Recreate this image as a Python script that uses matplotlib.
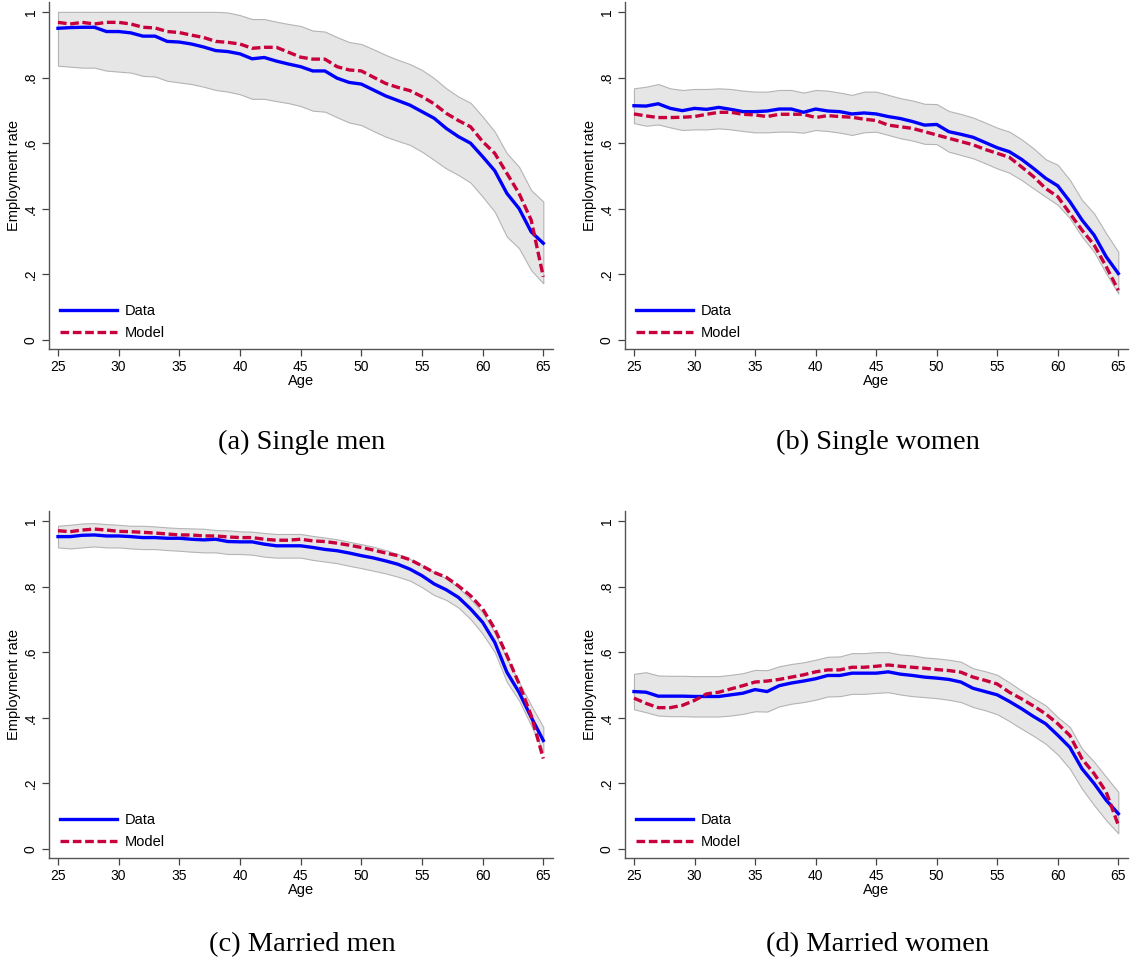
import matplotlib.pyplot as plt
import numpy as np

ages = np.arange(25, 66)

# (a) Single men
sm_data = [0.950, 0.952, 0.953, 0.953, 0.940, 0.940, 0.936, 0.926, 0.926, 0.910,
           0.908, 0.902, 0.893, 0.882, 0.879, 0.872, 0.857, 0.861, 0.850, 0.841,
           0.833, 0.820, 0.820, 0.798, 0.785, 0.780, 0.762, 0.744, 0.730, 0.716,
           0.696, 0.676, 0.645, 0.620, 0.600, 0.559, 0.516, 0.447, 0.401, 0.330, 0.295]
sm_model = [0.968, 0.963, 0.968, 0.963, 0.968, 0.968, 0.963, 0.953, 0.951, 0.940,
            0.937, 0.929, 0.922, 0.910, 0.907, 0.902, 0.889, 0.892, 0.892, 0.877,
            0.862, 0.856, 0.856, 0.833, 0.823, 0.820, 0.801, 0.782, 0.770, 0.760,
            0.742, 0.720, 0.691, 0.669, 0.650, 0.605, 0.569, 0.508, 0.447, 0.366, 0.193]
sm_hi = [1.0, 1.0, 1.0, 1.0, 1.0, 1.0, 1.0, 1.0, 1.0, 1.0,
         1.0, 1.0, 1.0, 1.0, 0.998, 0.990, 0.978, 0.978, 0.970, 0.963,
         0.957, 0.943, 0.940, 0.923, 0.908, 0.902, 0.886, 0.869, 0.854, 0.841,
         0.823, 0.798, 0.767, 0.742, 0.723, 0.681, 0.635, 0.569, 0.528, 0.457, 0.422]
sm_lo = [0.836, 0.833, 0.830, 0.830, 0.821, 0.818, 0.815, 0.805, 0.803, 0.790,
         0.785, 0.780, 0.772, 0.762, 0.757, 0.749, 0.735, 0.735, 0.728, 0.722,
         0.713, 0.699, 0.696, 0.679, 0.663, 0.655, 0.637, 0.620, 0.607, 0.595,
         0.574, 0.549, 0.523, 0.503, 0.480, 0.437, 0.391, 0.315, 0.280, 0.213, 0.173]

# (b) Single women
sw_data = [0.714, 0.713, 0.720, 0.706, 0.699, 0.706, 0.703, 0.709, 0.703, 0.696,
           0.696, 0.698, 0.704, 0.704, 0.694, 0.704, 0.698, 0.696, 0.689, 0.692,
           0.689, 0.681, 0.675, 0.666, 0.655, 0.657, 0.635, 0.627, 0.618, 0.602,
           0.586, 0.574, 0.551, 0.523, 0.493, 0.470, 0.422, 0.366, 0.320, 0.254, 0.203]
sw_model = [0.689, 0.683, 0.678, 0.678, 0.679, 0.681, 0.688, 0.694, 0.694, 0.688,
            0.686, 0.681, 0.688, 0.688, 0.688, 0.678, 0.684, 0.681, 0.679, 0.673,
            0.669, 0.655, 0.650, 0.645, 0.635, 0.625, 0.615, 0.605, 0.595, 0.581,
            0.569, 0.557, 0.528, 0.498, 0.462, 0.437, 0.386, 0.335, 0.290, 0.224, 0.152]
sw_hi = [0.767, 0.772, 0.780, 0.767, 0.762, 0.765, 0.765, 0.767, 0.765, 0.760,
         0.757, 0.757, 0.762, 0.762, 0.754, 0.762, 0.760, 0.754, 0.747, 0.757,
         0.757, 0.747, 0.737, 0.730, 0.720, 0.719, 0.698, 0.689, 0.678, 0.663,
         0.647, 0.635, 0.612, 0.584, 0.551, 0.534, 0.488, 0.427, 0.386, 0.325, 0.269]
sw_lo = [0.661, 0.653, 0.657, 0.648, 0.640, 0.642, 0.642, 0.645, 0.642, 0.637,
         0.633, 0.633, 0.635, 0.635, 0.632, 0.640, 0.637, 0.632, 0.625, 0.633,
         0.635, 0.625, 0.615, 0.608, 0.598, 0.597, 0.574, 0.564, 0.554, 0.539,
         0.523, 0.510, 0.488, 0.462, 0.437, 0.412, 0.371, 0.315, 0.269, 0.203, 0.142]

# (c) Married men
mm_data = [0.952, 0.952, 0.956, 0.957, 0.954, 0.954, 0.952, 0.949, 0.949, 0.947,
           0.947, 0.944, 0.942, 0.944, 0.937, 0.936, 0.936, 0.929, 0.924, 0.924,
           0.924, 0.919, 0.913, 0.909, 0.902, 0.894, 0.887, 0.878, 0.868, 0.853,
           0.833, 0.808, 0.790, 0.767, 0.732, 0.691, 0.630, 0.539, 0.478, 0.402, 0.331]
mm_model = [0.970, 0.967, 0.972, 0.975, 0.972, 0.968, 0.967, 0.965, 0.963, 0.960,
            0.957, 0.957, 0.954, 0.954, 0.951, 0.949, 0.949, 0.944, 0.941, 0.941,
            0.944, 0.939, 0.937, 0.932, 0.926, 0.919, 0.911, 0.902, 0.894, 0.882,
            0.863, 0.843, 0.828, 0.802, 0.772, 0.732, 0.671, 0.590, 0.504, 0.407, 0.276]
mm_hi = [0.985, 0.988, 0.992, 0.993, 0.990, 0.988, 0.985, 0.985, 0.983, 0.980,
         0.978, 0.977, 0.976, 0.972, 0.971, 0.968, 0.967, 0.963, 0.960, 0.960,
         0.960, 0.954, 0.949, 0.944, 0.936, 0.929, 0.921, 0.911, 0.899, 0.884,
         0.865, 0.843, 0.825, 0.797, 0.762, 0.721, 0.660, 0.580, 0.509, 0.438, 0.372]
mm_lo = [0.919, 0.916, 0.919, 0.922, 0.919, 0.919, 0.916, 0.914, 0.914, 0.911,
         0.909, 0.906, 0.904, 0.904, 0.899, 0.899, 0.897, 0.891, 0.888, 0.888,
         0.888, 0.881, 0.876, 0.871, 0.863, 0.856, 0.848, 0.840, 0.830, 0.818,
         0.798, 0.774, 0.759, 0.736, 0.701, 0.656, 0.600, 0.509, 0.453, 0.377, 0.296]

# (d) Married women
mw_data = [0.480, 0.478, 0.466, 0.466, 0.466, 0.465, 0.465, 0.465, 0.470, 0.475,
           0.486, 0.480, 0.498, 0.506, 0.512, 0.519, 0.529, 0.529, 0.536, 0.536,
           0.536, 0.540, 0.533, 0.529, 0.524, 0.521, 0.517, 0.509, 0.490, 0.480,
           0.470, 0.450, 0.428, 0.404, 0.382, 0.347, 0.310, 0.245, 0.200, 0.149, 0.108]
mw_model = [0.460, 0.444, 0.431, 0.431, 0.438, 0.453, 0.473, 0.478, 0.488, 0.498,
            0.509, 0.512, 0.517, 0.524, 0.531, 0.540, 0.546, 0.546, 0.554, 0.554,
            0.557, 0.561, 0.557, 0.554, 0.551, 0.547, 0.544, 0.539, 0.524, 0.514,
            0.503, 0.478, 0.458, 0.436, 0.412, 0.382, 0.346, 0.275, 0.230, 0.174, 0.073]
mw_hi = [0.534, 0.539, 0.529, 0.528, 0.528, 0.527, 0.527, 0.527, 0.531, 0.536,
         0.546, 0.545, 0.557, 0.564, 0.569, 0.577, 0.586, 0.587, 0.597, 0.597,
         0.600, 0.600, 0.593, 0.590, 0.584, 0.581, 0.577, 0.571, 0.551, 0.542,
         0.531, 0.508, 0.483, 0.460, 0.438, 0.402, 0.372, 0.306, 0.266, 0.220, 0.174]
mw_lo = [0.426, 0.417, 0.407, 0.405, 0.405, 0.404, 0.404, 0.404, 0.407, 0.412,
         0.420, 0.419, 0.435, 0.443, 0.448, 0.455, 0.465, 0.466, 0.473, 0.473,
         0.476, 0.478, 0.471, 0.466, 0.463, 0.460, 0.455, 0.448, 0.433, 0.423,
         0.411, 0.390, 0.367, 0.345, 0.321, 0.288, 0.245, 0.184, 0.134, 0.088, 0.048]

captions = ['(a) Single men', '(b) Single women', '(c) Married men', '(d) Married women']
panels = [(sm_data, sm_model, sm_lo, sm_hi),
          (sw_data, sw_model, sw_lo, sw_hi),
          (mm_data, mm_model, mm_lo, mm_hi),
          (mw_data, mw_model, mw_lo, mw_hi)]

W, H = 1133, 966
# axes boxes in pixels: left, top, right, bottom
boxes = [(49, 2, 553, 349), (625, 2, 1128, 349),
         (49, 511, 553, 858), (625, 511, 1128, 858)]
caption_y = [442, 945]

plt.rcParams['font.family'] = ['Liberation Sans', 'DejaVu Sans']
fig = plt.figure(figsize=(W / 100, H / 100), dpi=100)

for i, (data, model, lo, hi) in enumerate(panels):
    l, t, r, b = boxes[i]
    ax = fig.add_axes([l / W, 1 - b / H, (r - l) / W, (b - t) / H])
    ax.fill_between(ages, lo, hi, facecolor='#e6e6e6', edgecolor='#b4b4b4', linewidth=0.8)
    ax.plot(ages, data, color='#0000ff', lw=2.4, label='Data')
    ax.plot(ages, model, color='#c8003c', lw=2.4, ls=(0, (2.6, 1.1)), label='Model')
    ax.set_xlim(24.26, 65.8)
    ax.set_ylim(-0.027, 1.03)
    ax.set_xticks(range(25, 66, 5))
    ax.set_yticks([0, 0.2, 0.4, 0.6, 0.8, 1.0])
    ax.set_yticklabels(['0', '.2', '.4', '.6', '.8', '1'], rotation=90, va='center')
    ax.tick_params(labelsize=10, length=5, width=0.9, color='#444444', pad=3)
    for s in ['top', 'right']:
        ax.spines[s].set_visible(False)
    for s in ['left', 'bottom']:
        ax.spines[s].set_color('#555555')
        ax.spines[s].set_linewidth(1.0)
    ax.set_xlabel('Age', fontsize=10.5, labelpad=0)
    ax.set_ylabel('Employment rate', fontsize=10.5, labelpad=2)
    ax.legend(loc='lower left', bbox_to_anchor=(0.004, 0.0), frameon=False, fontsize=10.5,
              handlelength=3.9, handletextpad=0.55, labelspacing=0.55, borderaxespad=0.2)
    cx = (l + r) / 2 + 1
    fig.text(cx / W, 1 - caption_y[i // 2] / H, captions[i], ha='center', va='center',
             fontsize=20.5, family=['Liberation Serif', 'DejaVu Serif'])

fig.savefig('out.png', dpi=100)
